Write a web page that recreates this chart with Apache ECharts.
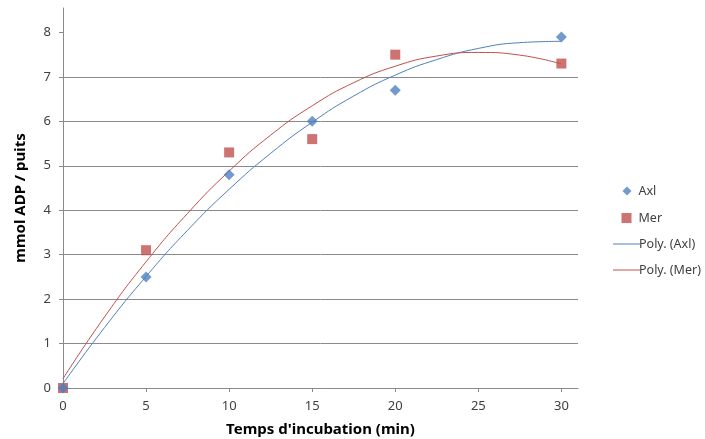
<!DOCTYPE html>
<html>
<head>
<meta charset="utf-8">
<script src="https://cdn.jsdelivr.net/npm/echarts@6/dist/echarts.min.js"></script>
<style>html,body{margin:0;padding:0;background:#fff}#c{width:705px;height:439px}</style>
</head>
<body>
<div id="c"></div>
<script>
// Measured points
const times = [0, 5, 10, 15, 20, 30];
const axl = [0, 2.5, 4.8, 6.0, 6.7, 7.9];
const mer = [0, 3.1, 5.3, 5.6, 7.5, 7.3];
// Polynomial trendlines
const trendX = [0, 2.5, 5, 7.5, 10, 12.5, 15, 17.5, 20, 22.5, 25, 27.5, 30];
const polyAxl = [0.10, 1.36, 2.51, 3.55, 4.47, 5.28, 5.98, 6.57, 7.04, 7.39, 7.64, 7.77, 7.80];
const polyMer = [0.21, 1.60, 2.84, 3.93, 4.88, 5.69, 6.35, 6.87, 7.24, 7.47, 7.55, 7.49, 7.29];
const xTicks = [0, 5, 10, 15, 20, 25, 30];
const yTicks = [0, 1, 2, 3, 4, 5, 6, 7, 8];

const pair = (xs, ys) => xs.map((x, i) => [x, ys[i]]);
const FONT = 'Noto Sans';
const GRID = '#8a8a8a';
const BLUE = '#4F81BD';
const RED = '#C0504D';
const legendText = {fontFamily: FONT, fontSize: 12.5, color: '#404040', lineHeight: 14};

const chart = echarts.init(document.getElementById('c'), null, {renderer: 'canvas'});
chart.setOption({
  animation: false,
  backgroundColor: '#ffffff',
  textStyle: {fontFamily: FONT},
  grid: {left: 63, top: 8, right: 127, bottom: 51, containLabel: false, outerBoundsMode: 'none'},
  legend: [
    {
      left: 617.5, top: 179, itemWidth: 9, itemHeight: 9,
      icon: 'diamond', data: ['Axl'],
      textStyle: Object.assign({padding: [0, 0, 0, 2]}, legendText)
    },
    {
      left: 616.5, top: 206, itemWidth: 10, itemHeight: 10,
      icon: 'rect', data: ['Mer'],
      textStyle: Object.assign({padding: [0, 0, 0, 2]}, legendText)
    },
    {
      orient: 'vertical', left: 608, top: 232, itemWidth: 27, itemHeight: 1, itemGap: 12,
      icon: 'rect', data: ['Poly. (Axl)', 'Poly. (Mer)'],
      textStyle: Object.assign({padding: [0, 0, 0, -6]}, legendText)
    }
  ],
  xAxis: {
    type: 'value',
    min: 0,
    max: 31,
    name: "Temps d'incubation (min)",
    nameLocation: 'middle',
    nameGap: 34,
    nameTextStyle: {fontFamily: FONT, fontSize: 15, fontWeight: 'bold', color: '#000'},
    axisLine: {show: true, onZero: false, lineStyle: {color: GRID, width: 1}},
    axisTick: {show: true, length: 4, inside: false, customValues: xTicks, lineStyle: {color: GRID}},
    axisLabel: {customValues: xTicks, margin: 12, fontFamily: FONT, fontSize: 13, color: '#404040'},
    splitLine: {show: false}
  },
  yAxis: {
    type: 'value',
    min: 0,
    max: 8.55,
    name: 'mmol ADP / puits',
    nameLocation: 'middle',
    nameGap: 35,
    nameRotate: 90,
    nameTextStyle: {fontFamily: FONT, fontSize: 15, fontWeight: 'bold', color: '#000'},
    axisLine: {show: true, lineStyle: {color: GRID, width: 1}},
    axisTick: {show: true, length: 4, inside: false, customValues: yTicks, lineStyle: {color: GRID}},
    axisLabel: {customValues: yTicks, margin: 12, fontFamily: FONT, fontSize: 13, color: '#404040'},
    splitLine: {show: true, showMaxLine: false, lineStyle: {color: GRID, width: 1}}
  },
  series: [
    {
      name: 'Poly. (Axl)', type: 'line', data: pair(trendX, polyAxl),
      smooth: true, showSymbol: false, symbol: 'none',
      lineStyle: {color: BLUE, width: 1}, itemStyle: {color: BLUE}, z: 2
    },
    {
      name: 'Poly. (Mer)', type: 'line', data: pair(trendX, polyMer),
      smooth: true, showSymbol: false, symbol: 'none',
      lineStyle: {color: RED, width: 1}, itemStyle: {color: RED}, z: 2
    },
    {
      name: 'Axl', type: 'scatter', data: pair(times, axl),
      symbol: 'diamond', symbolSize: 11, itemStyle: {color: BLUE}, z: 4
    },
    {
      name: 'Mer', type: 'scatter', data: pair(times, mer),
      symbol: 'rect', symbolSize: 10, itemStyle: {color: RED}, z: 3
    }
  ]
});
</script>
</body>
</html>
